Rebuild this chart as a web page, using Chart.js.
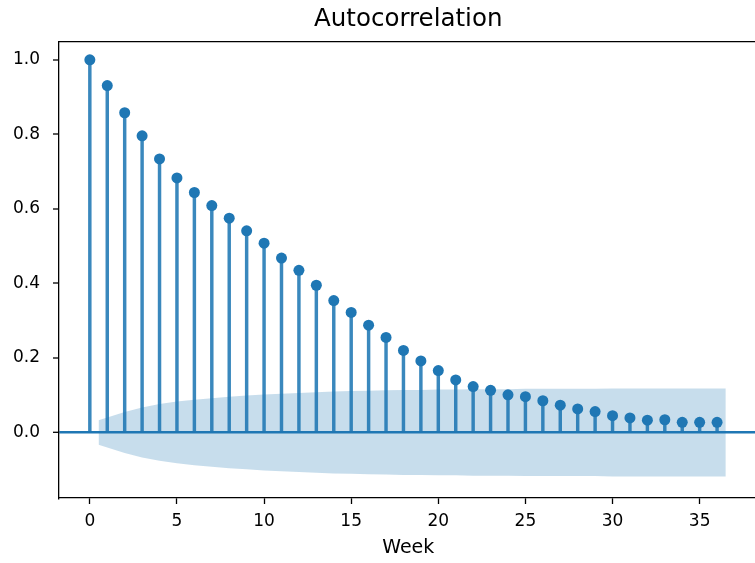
<!DOCTYPE html>
<html>
<head>
<meta charset="utf-8">
<title>Autocorrelation</title>
<script src="https://cdn.jsdelivr.net/npm/chart.js@4.4.1/dist/chart.umd.min.js"></script>
<style>
    html, body { margin: 0; padding: 0; background: #fff; overflow: hidden; }
    #wrap { width: 763px; height: 563px; }
</style>
</head>
<body>
<div id="wrap"><canvas id="acfChart" width="763" height="563"></canvas></div>
<script>
// 滞后阶数
const lags = [0, 1, 2, 3, 4, 5, 6, 7, 8, 9, 10, 11, 12, 13, 14, 15, 16, 17, 18,
    19, 20, 21, 22, 23, 24, 25, 26, 27, 28, 29, 30, 31, 32, 33, 34, 35, 36];

// 自相关系数
const acfValues = [1.000, 0.931, 0.858, 0.796, 0.734, 0.683, 0.644, 0.609, 0.575,
    0.541, 0.508, 0.468, 0.435, 0.395, 0.354, 0.322, 0.288, 0.255, 0.220,
    0.192, 0.166, 0.141, 0.123, 0.113, 0.101, 0.096, 0.085, 0.073, 0.063,
    0.056, 0.045, 0.039, 0.033, 0.034, 0.027, 0.027, 0.027];

// 置信区间半宽 (滞后 1..36)
const bandHalf = [0.033, 0.055, 0.067, 0.076, 0.083, 0.088, 0.092, 0.096, 0.099,
    0.102, 0.104, 0.106, 0.108, 0.110, 0.111, 0.112, 0.113, 0.114, 0.114,
    0.115, 0.115, 0.116, 0.116, 0.116, 0.117, 0.117, 0.117, 0.117, 0.117,
    0.118, 0.118, 0.118, 0.118, 0.118, 0.118, 0.118];

// 刻度
const xTicks = [0, 5, 10, 15, 20, 25, 30, 35];
const yTicks = [0.0, 0.2, 0.4, 0.6, 0.8, 1.0];
const xRange = [-1.77, 38.32];
const yRange = [-0.176, 1.049];

const BLUE = '#1f77b4';

// 置信带的边界点 (首尾各外扩半个滞后)
function buildBand(sign) {
    return bandHalf.map((h, i) => {
        let x = lags[i + 1];
        if (i === 0) x -= 0.5;
        if (i === bandHalf.length - 1) x += 0.5;
        return { x: x, y: sign * h };
    });
}

// 画上边框和右边框
const frameBox = {
    id: 'frameBox',
    afterDraw(chart) {
        const { ctx, chartArea } = chart;
        ctx.save();
        ctx.strokeStyle = '#000';
        ctx.lineWidth = 1.3;
        ctx.beginPath();
        ctx.moveTo(chartArea.left, chartArea.top);
        ctx.lineTo(chartArea.right, chartArea.top);
        ctx.lineTo(chartArea.right, chartArea.bottom);
        ctx.stroke();
        ctx.restore();
    }
};

Chart.defaults.font.family = '"DejaVu Sans", sans-serif';
Chart.defaults.color = '#000';

new Chart(document.getElementById('acfChart'), {
    type: 'scatter',
    data: {
        datasets: [
            {
                type: 'line',
                data: buildBand(1),
                fill: '+1',
                backgroundColor: 'rgba(31,119,180,0.25)',
                borderWidth: 0,
                pointRadius: 0,
                tension: 0,
                order: 0
            },
            {
                type: 'line',
                data: buildBand(-1),
                fill: false,
                borderWidth: 0,
                pointRadius: 0,
                tension: 0,
                order: 1
            },
            {
                type: 'scatter',
                data: acfValues.map((v, i) => ({ x: lags[i], y: v })),
                pointRadius: 5.5,
                pointBackgroundColor: BLUE,
                pointBorderWidth: 0,
                order: 2
            },
            {
                type: 'bar',
                data: acfValues.map((v, i) => ({ x: lags[i], y: v })),
                backgroundColor: 'rgba(31,119,180,0.88)',
                borderWidth: 0,
                barThickness: 2.8,
                grouped: false,
                order: 3
            }
        ]
    },
    options: {
        responsive: false,
        animation: false,
        devicePixelRatio: 1,
        layout: { padding: 0 },
        plugins: {
            legend: { display: false },
            tooltip: { enabled: false },
            title: {
                display: true,
                text: 'Autocorrelation',
                fullSize: false,
                font: { size: 24.5, weight: 'normal' },
                color: '#000',
                padding: { top: 5, bottom: 7.2 }
            }
        },
        scales: {
            x: {
                type: 'linear',
                min: xRange[0],
                max: xRange[1],
                offset: false,
                afterFit(scale) { scale.height = 65; },
                afterBuildTicks(scale) { scale.ticks = xTicks.map(v => ({ value: v })); },
                ticks: {
                    font: { size: 17 },
                    color: '#000',
                    padding: 7,
                    maxRotation: 0,
                    autoSkip: false,
                    callback: v => String(v)
                },
                grid: {
                    drawOnChartArea: false,
                    offset: false,
                    tickColor: '#000',
                    tickWidth: 1.3,
                    tickLength: 6
                },
                border: { color: '#000', width: 1.3 },
                title: {
                    display: true,
                    text: 'Week',
                    font: { size: 19 },
                    color: '#000',
                    padding: { top: 0, bottom: 4 }
                }
            },
            y: {
                type: 'linear',
                min: yRange[0],
                max: yRange[1],
                afterFit(scale) { scale.width = 59; },
                afterBuildTicks(scale) { scale.ticks = yTicks.map(v => ({ value: v })); },
                ticks: {
                    font: { size: 17 },
                    color: '#000',
                    padding: 13,
                    callback: v => v.toFixed(1)
                },
                grid: {
                    color: ctx => (ctx.tick && ctx.tick.value === 0) ? BLUE : 'rgba(0,0,0,0)',
                    lineWidth: ctx => (ctx.tick && ctx.tick.value === 0) ? 2.6 : 0,
                    tickColor: '#000',
                    tickWidth: 1.3,
                    tickLength: 6
                },
                border: { color: '#000', width: 1.3 }
            }
        }
    },
    plugins: [frameBox]
});
</script>
</body>
</html>
